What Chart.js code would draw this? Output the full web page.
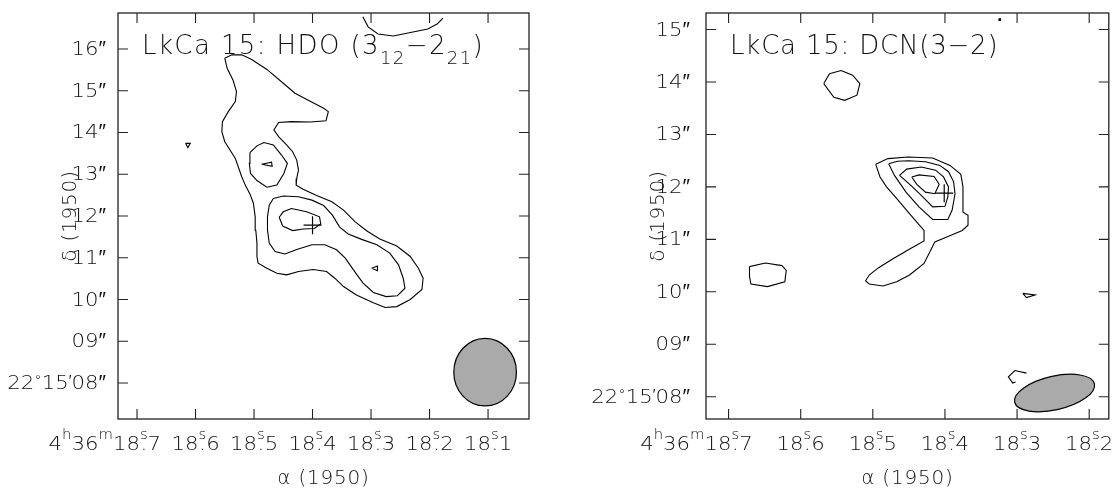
<!DOCTYPE html>
<html>
<head>
<meta charset="utf-8">
<script src="https://cdn.jsdelivr.net/npm/chart.js@4.4.1/dist/chart.umd.min.js"></script>
<style>
html, body { margin: 0; padding: 0; background: #fff; }
#wrap { position: relative; width: 1119px; height: 492px; }
canvas { position: absolute; top: 0; }
</style>
</head>
<body>
<div id="wrap">
  <canvas id="hdo" width="560" height="492" style="left:0"></canvas>
  <canvas id="dcn" width="559" height="492" style="left:560px"></canvas>
</div>
<script>
// ---- HDO panel: contours as [RA seconds, Dec arcsec] ----
const hdoOuter = [[18.550,15.78],[18.538,15.86],[18.521,15.86],[18.504,15.75],[18.478,15.51],[18.450,15.18],[18.430,14.94],[18.404,14.75],[18.381,14.58],[18.373,14.50],[18.377,14.28],[18.404,14.25],[18.436,14.26],[18.458,14.24],[18.466,14.06],[18.458,13.90],[18.444,13.70],[18.434,13.54],[18.427,13.34],[18.424,13.10],[18.427,12.90],[18.428,12.74],[18.416,12.64],[18.393,12.49],[18.367,12.34],[18.347,12.14],[18.327,11.86],[18.307,11.64],[18.285,11.45],[18.256,11.28],[18.233,11.03],[18.219,10.75],[18.211,10.51],[18.213,10.24],[18.233,10.00],[18.256,9.83],[18.276,9.81],[18.296,9.92],[18.325,10.11],[18.347,10.31],[18.362,10.51],[18.376,10.67],[18.399,10.72],[18.424,10.67],[18.444,10.59],[18.461,10.63],[18.478,10.75],[18.493,10.87],[18.495,11.03],[18.495,11.35],[18.497,11.66],[18.498,11.98],[18.501,12.30],[18.507,12.53],[18.515,12.74],[18.521,12.94],[18.527,13.18],[18.532,13.38],[18.541,13.58],[18.550,13.78],[18.555,14.02],[18.554,14.26],[18.544,14.50],[18.532,14.74],[18.530,14.98],[18.536,15.26],[18.546,15.54]];
const hdoMid = [[18.467,12.42],[18.450,12.48],[18.424,12.46],[18.401,12.38],[18.381,12.25],[18.366,12.02],[18.354,11.74],[18.339,11.57],[18.316,11.44],[18.290,11.31],[18.268,11.11],[18.253,10.83],[18.245,10.51],[18.242,10.27],[18.255,10.09],[18.274,10.07],[18.296,10.17],[18.314,10.40],[18.330,10.71],[18.344,10.99],[18.359,11.19],[18.379,11.31],[18.401,11.31],[18.427,11.20],[18.447,11.09],[18.464,11.15],[18.474,11.35],[18.477,11.66],[18.477,11.98],[18.474,12.26]];
const hdoMidNorth = [[18.507,13.52],[18.495,13.68],[18.483,13.76],[18.467,13.70],[18.453,13.46],[18.443,13.26],[18.449,13.02],[18.461,12.74],[18.478,12.69],[18.495,12.85],[18.506,13.02],[18.508,13.26]];
const hdoPeak = [[18.457,11.97],[18.450,12.10],[18.436,12.18],[18.410,12.10],[18.388,11.98],[18.386,11.81],[18.397,11.70],[18.416,11.69],[18.434,11.65],[18.451,11.76]];
const hdoSpeckA = [[18.487,13.24],[18.470,13.29],[18.469,13.19]];
const hdoSpeckB = [[18.617,13.74],[18.609,13.74],[18.613,13.64]];
const hdoSpeckC = [[18.299,10.75],[18.289,10.80],[18.289,10.69]];
const hdoEdge = [[18.314,16.77],[18.305,16.53],[18.288,16.36],[18.262,16.31],[18.203,16.48],[18.187,16.60],[18.177,16.74]];
const hdoStar = [18.400, 11.78];
const hdoBeam = { ra: 18.105, dec: 8.26, bmaj: 1.62, bmin: 1.50, pa: 0 };

// ---- DCN panel ----
const dcnOuter = [[18.496,12.43],[18.479,12.54],[18.451,12.57],[18.417,12.55],[18.393,12.41],[18.378,12.24],[18.375,12.00],[18.375,11.52],[18.368,11.46],[18.368,11.27],[18.376,11.17],[18.395,11.06],[18.414,10.95],[18.420,10.79],[18.429,10.54],[18.449,10.32],[18.467,10.19],[18.486,10.11],[18.505,10.15],[18.510,10.21],[18.505,10.32],[18.492,10.46],[18.472,10.63],[18.447,10.83],[18.429,10.97],[18.429,11.17],[18.439,11.33],[18.451,11.52],[18.467,11.78],[18.481,12.00],[18.490,12.19]];
const dcnLevel2 = [[18.478,12.44],[18.466,12.49],[18.450,12.50],[18.427,12.48],[18.407,12.41],[18.395,12.29],[18.388,12.10],[18.386,11.87],[18.390,11.56],[18.396,11.38],[18.417,11.38],[18.436,11.62],[18.454,11.90],[18.470,12.22]];
const dcnLevel3 = [[18.463,12.22],[18.453,12.34],[18.433,12.38],[18.413,12.32],[18.402,12.19],[18.395,12.00],[18.396,11.81],[18.400,11.63],[18.417,11.62],[18.430,11.80],[18.445,12.00],[18.457,12.15]];
const dcnLevel4 = [[18.446,12.19],[18.436,12.23],[18.415,12.20],[18.408,12.05],[18.414,11.87],[18.427,11.90],[18.439,12.05]];
const dcnBlobN = [[18.568,13.97],[18.560,14.16],[18.544,14.22],[18.528,14.13],[18.518,13.97],[18.522,13.75],[18.539,13.65],[18.554,13.71]];
const dcnBlobW = [[18.671,10.48],[18.649,10.55],[18.626,10.50],[18.620,10.41],[18.622,10.19],[18.646,10.10],[18.669,10.15],[18.671,10.30]];
const dcnSpeck = [[18.292,9.97],[18.275,9.94],[18.287,9.89]];
const dcnHook = [[18.287,8.45],[18.303,8.50],[18.312,8.38],[18.306,8.26],[18.302,8.28]];
const dcnDot = [18.324, 15.19];
const dcnStar = [18.401, 11.88];
const dcnBeam = { ra: 18.248, dec: 8.07, bmaj: 1.56, bmin: 0.64, pa: 103 };

// ---- axes ----
const hdoRaRange = [18.030, 18.7325];
const hdoDecRange = [7.138, 16.862];
const hdoRaTicks = [18.7, 18.6, 18.5, 18.4, 18.3, 18.2, 18.1];
const hdoRaLabels = ['18^{s}.7', '18^{s}.6', '18^{s}.5', '18^{s}.4', '18^{s}.3', '18^{s}.2', '18^{s}.1'];
const hdoDecTicks = [8, 9, 10, 11, 12, 13, 14, 15, 16];
const hdoDecLabels = ['22~{°}15~{′}08″', '09″', '10″', '11″', '12″', '13″', '14″', '15″', '16″'];

const dcnRaRange = [18.1728, 18.7313];
const dcnDecRange = [7.575, 15.316];
const dcnRaTicks = [18.7, 18.6, 18.5, 18.4, 18.3, 18.2];
const dcnRaLabels = ['18^{s}.7', '18^{s}.6', '18^{s}.5', '18^{s}.4', '18^{s}.3', '18^{s}.2'];
const dcnDecTicks = [8, 9, 10, 11, 12, 13, 14, 15];
const dcnDecLabels = ['22~{°}15~{′}08″', '09″', '10″', '11″', '12″', '13″', '14″', '15″'];

const raPrefix = '4^{h}36^{m}';

const PANELS = {
    hdo: { title: 'LkCa 15: HDO (3_{12}−2_{21})', titleSpacing: '1.4px', beam: hdoBeam,
           raTicks: hdoRaTicks, raLabels: hdoRaLabels, decTicks: hdoDecTicks, decLabels: hdoDecLabels, gap: 12 },
    dcn: { title: 'LkCa 15: DCN(3−2)', titleSpacing: '0.8px', beam: dcnBeam,
           raTicks: dcnRaTicks, raLabels: dcnRaLabels, decTicks: dcnDecTicks, decLabels: dcnDecLabels, gap: 16 }
};

const FAMILY = '"DejaVu Sans", "Liberation Sans", sans-serif';
const font = (size) => `200 ${size}px ${FAMILY}`;

// ^{..} superscript, _{..} subscript, ~{..} small glyph on the baseline
function parseRich(s) {
    const out = [];
    const modes = { '^': 'sup', '_': 'sub', '~': 'small' };
    let i = 0, buf = '';
    while (i < s.length) {
        const c = s[i];
        if (modes[c] && s[i + 1] === '{') {
            if (buf) { out.push({ t: buf, m: 'n' }); buf = ''; }
            const j = s.indexOf('}', i);
            out.push({ t: s.slice(i + 2, j), m: modes[c] });
            i = j + 1;
        } else { buf += c; i++; }
    }
    if (buf) out.push({ t: buf, m: 'n' });
    return out;
}

// a '.' right after a superscript sits under it; sx stretches glyphs horizontally
function drawRich(ctx, str, x, y, st, align) {
    const toks = parseRich(str);
    const sx = st.sx || 1;
    ctx.letterSpacing = st.spacing || '0px';
    const put = (t, px, py) => {
        ctx.save(); ctx.translate(px, py); ctx.scale(sx, 1); ctx.fillText(t, 0, 0); ctx.restore();
    };
    let w = 0;
    toks.forEach((tk, k) => {
        let t = tk.t;
        if (tk.m === 'n' && k > 0 && toks[k - 1].m === 'sup' && t[0] === '.') t = t.slice(1);
        ctx.font = font(tk.m === 'n' ? st.size : st.small);
        w += ctx.measureText(t).width * sx;
    });
    let cx = align === 'center' ? x - w / 2 : align === 'right' ? x - w : x;
    let lastSup = null;
    ctx.textAlign = 'left';
    ctx.textBaseline = 'alphabetic';
    toks.forEach(tk => {
        let t = tk.t;
        if (tk.m === 'n') {
            ctx.font = font(st.size);
            if (lastSup && t[0] === '.') {
                const dw = ctx.measureText('.').width * sx;
                put('.', lastSup.x + (lastSup.w - dw) / 2, y);
                t = t.slice(1);
            }
            put(t, cx, y);
            cx += ctx.measureText(t).width * sx;
            lastSup = null;
        } else {
            ctx.font = font(st.small);
            const tw = ctx.measureText(t).width * sx;
            const dy = tk.m === 'sup' ? -st.raise : tk.m === 'sub' ? st.drop : -4;
            put(t, cx, y + dy);
            lastSup = tk.m === 'sup' ? { x: cx, w: tw } : null;
            cx += tw;
        }
    });
    ctx.letterSpacing = '0px';
    return w;
}

const tickStyle = { size: 20, small: 14, raise: 11, sx: 1.06 };
const axisStyle = { size: 20, spacing: '0.8px' };

const skyFrame = {
    id: 'skyFrame',
    afterDatasetsDraw(chart) {
        const p = PANELS[chart.canvas.id];
        const ctx = chart.ctx, a = chart.chartArea;
        const xs = chart.scales.x, ys = chart.scales.y;
        ctx.save();

        // beam
        const b = p.beam;
        const bx = xs.getPixelForValue(b.ra), by = ys.getPixelForValue(b.dec);
        const pxArc = Math.abs(ys.getPixelForValue(b.dec + 1) - by);
        const pa = b.pa * Math.PI / 180;
        ctx.beginPath();
        ctx.ellipse(bx, by, b.bmaj / 2 * pxArc, b.bmin / 2 * pxArc, Math.atan2(-Math.cos(pa), -Math.sin(pa)), 0, Math.PI * 2);
        ctx.fillStyle = '#aaaaaa';
        ctx.fill();
        ctx.lineWidth = 1.2;
        ctx.strokeStyle = '#000';
        ctx.stroke();

        // frame and inward ticks
        ctx.lineWidth = 1.3;
        ctx.strokeStyle = '#222';
        ctx.strokeRect(a.left, a.top, a.right - a.left, a.bottom - a.top);
        ctx.lineWidth = 1.1;
        ctx.beginPath();
        p.raTicks.forEach(t => {
            const x = xs.getPixelForValue(t);
            ctx.moveTo(x, a.bottom); ctx.lineTo(x, a.bottom - 10);
            ctx.moveTo(x, a.top); ctx.lineTo(x, a.top + 10);
        });
        p.decTicks.forEach(t => {
            const y = ys.getPixelForValue(t);
            ctx.moveTo(a.left, y); ctx.lineTo(a.left + 10, y);
            ctx.moveTo(a.right, y); ctx.lineTo(a.right - 10, y);
        });
        ctx.stroke();

        // tick labels
        ctx.fillStyle = '#111';
        const base = a.bottom + 30.5;
        p.raTicks.forEach((t, i) => {
            const x = xs.getPixelForValue(t);
            const w = drawRich(ctx, p.raLabels[i], x, base, tickStyle, 'center');
            if (i === 0) drawRich(ctx, raPrefix, x - w / 2, base, tickStyle, 'right');
        });
        p.decTicks.forEach((t, i) => {
            const y = ys.getPixelForValue(t);
            drawRich(ctx, p.decLabels[i], a.left - p.gap, y + 6, tickStyle, 'right');
        });

        // axis titles
        const cxm = (a.left + a.right) / 2;
        drawRich(ctx, 'α (1950)', cxm, a.bottom + 65, axisStyle, 'center');
        ctx.save();
        ctx.translate(a.left - 50, (a.top + a.bottom) / 2);
        ctx.rotate(-Math.PI / 2);
        drawRich(ctx, 'δ (1950)', 0, 8, axisStyle, 'center');
        ctx.restore();

        // panel title
        drawRich(ctx, p.title, a.left + 24, a.top + 41,
                 { size: 26, small: 18, drop: 10, spacing: p.titleSpacing }, 'left');
        ctx.restore();
    }
};

function contour(points, closed) {
    const pts = points.map(p => ({ x: p[0], y: p[1] }));
    if (closed) pts.push(pts[0]);
    return { data: pts, showLine: true, borderColor: '#000', borderWidth: 1.1, pointRadius: 0, tension: 0, fill: false };
}

function marker(pt, style, radius) {
    return { data: [{ x: pt[0], y: pt[1] }], showLine: false, pointStyle: style, pointRadius: radius,
             borderColor: '#000', backgroundColor: '#000', borderWidth: 1.2 };
}

function makeChart(id, datasets, raRange, decRange, padding) {
    return new Chart(document.getElementById(id), {
        type: 'scatter',
        data: { datasets: datasets },
        options: {
            responsive: false,
            animation: false,
            devicePixelRatio: 1,
            events: [],
            layout: { padding: padding },
            scales: {
                x: { type: 'linear', reverse: true, min: raRange[0], max: raRange[1], display: false },
                y: { type: 'linear', min: decRange[0], max: decRange[1], display: false }
            },
            plugins: { legend: { display: false }, tooltip: { enabled: false } }
        },
        plugins: [skyFrame]
    });
}

makeChart('hdo', [
    contour(hdoOuter, true), contour(hdoMid, true), contour(hdoMidNorth, true), contour(hdoPeak, true),
    contour(hdoSpeckA, true), contour(hdoSpeckB, true), contour(hdoSpeckC, true), contour(hdoEdge, false),
    marker(hdoStar, 'cross', 9)
], hdoRaRange, hdoDecRange, { left: 118, right: 31, top: 13, bottom: 73 });

makeChart('dcn', [
    contour(dcnOuter, true), contour(dcnLevel2, true), contour(dcnLevel3, true), contour(dcnLevel4, true),
    contour(dcnBlobN, true), contour(dcnBlobW, true), contour(dcnSpeck, true), contour(dcnHook, false),
    marker(dcnDot, 'rect', 1), marker(dcnStar, 'cross', 9)
], dcnRaRange, dcnDecRange, { left: 146, right: 2, top: 13, bottom: 73 });
</script>
</body>
</html>
